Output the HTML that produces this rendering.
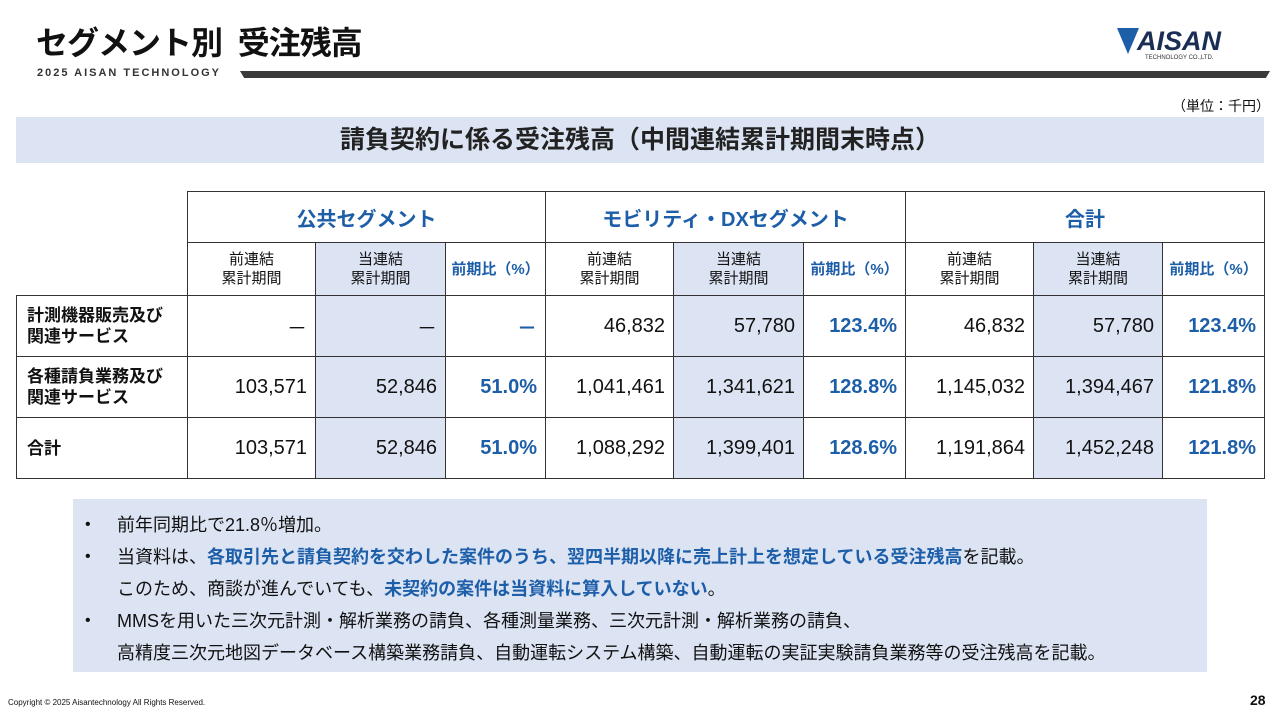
<!DOCTYPE html>
<html lang="ja"><head><meta charset="utf-8">
<style>
*{margin:0;padding:0;box-sizing:border-box}
body{width:1280px;height:720px;background:#fff;position:relative;overflow:hidden;font-family:"Liberation Sans","Noto Sans CJK JP",sans-serif;color:#111}
.abs{position:absolute}
#title{left:36px;top:18px;font-size:32px;font-weight:700;letter-spacing:-1px}
#sub{left:37px;top:67px;font-size:11px;font-weight:700;letter-spacing:2px;color:#333}
#bar{left:240px;top:71px;width:1030px;height:7px;background:#3a3a3a;clip-path:polygon(0 0,100% 0,99.6% 100%,0.4% 100%)}
#unit{left:1172px;top:96px;font-size:14px}
#banner{left:16px;top:117px;width:1248px;height:46px;background:#dce4f3;text-align:center;font-size:25px;font-weight:700;line-height:46px;color:#222}
table{position:absolute;left:16px;top:191px;border-collapse:collapse;font-size:20px;table-layout:fixed;width:1248px}
td{border:1px solid #333;height:20px;padding:0 8px;text-align:right;white-space:nowrap;overflow:hidden}
.h1 td{height:51px;text-align:center;color:#1d5ea8;font-weight:700;font-size:20px}
.h2 td{height:53px;text-align:center;font-size:15px;line-height:19px}
.h2 td.r{color:#1d5ea8;font-weight:700;padding:0}
.d td{height:61px}
td.lab{text-align:left;font-size:17px;font-weight:700;line-height:21px;padding-left:10px}
td.pct{color:#1d5ea8;font-weight:700}
.sh{background:#dce4f3}
.blank{border:none;border-right:1px solid #333}
#notes{left:73px;top:499px;width:1134px;height:173px;background:#dce4f3;font-size:18px;padding:10px 0 0 10px;line-height:32px}
#notes div{position:relative;padding-left:34px;white-space:nowrap}
#notes .b:before{content:"•";position:absolute;left:2px;font-size:16px}
.bl{color:#1d5ea8;font-weight:700}
#copy{left:8px;top:698px;font-size:8px}
#pg{left:1250px;top:692px;font-size:14px;font-weight:700}
</style></head><body>
<div id="title" class="abs">セグメント別&nbsp; 受注残高</div>
<div id="sub" class="abs">2025 AISAN TECHNOLOGY</div>
<div id="bar" class="abs"></div>
<svg class="abs" style="left:1115px;top:22px" width="130" height="40">
<polygon points="2,6 24,6 13,32" fill="#1d5ea8"/>
<text x="22" y="28" font-size="27" font-weight="700" font-family="Liberation Sans Narrow,Liberation Sans,sans-serif" fill="#1a2e55" font-style="italic">AISAN</text>
<text x="30" y="37" font-size="6" fill="#333">TECHNOLOGY CO.,LTD.</text>
</svg>
<div id="unit" class="abs">（単位：千円）</div>
<div id="banner" class="abs">請負契約に係る受注残高（中間連結累計期間末時点）</div>
<table>
<colgroup><col style="width:171px"><col style="width:128px"><col style="width:130px"><col style="width:100px"><col style="width:128px"><col style="width:130px"><col style="width:102px"><col style="width:128px"><col style="width:129px"><col style="width:102px"></colgroup>
<tr class="h1"><td class="blank"></td><td colspan="3">公共セグメント</td><td colspan="3">モビリティ・DXセグメント</td><td colspan="3">合計</td></tr>
<tr class="h2"><td class="blank"></td><td>前連結<br>累計期間</td><td class="sh">当連結<br>累計期間</td><td class="r">前期比（%）</td><td>前連結<br>累計期間</td><td class="sh">当連結<br>累計期間</td><td class="r">前期比（%）</td><td>前連結<br>累計期間</td><td class="sh">当連結<br>累計期間</td><td class="r">前期比（%）</td></tr>
<tr class="d"><td class="lab">計測機器販売及び<br>関連サービス</td><td>－</td><td class="sh">－</td><td class="pct">－</td><td>46,832</td><td class="sh">57,780</td><td class="pct">123.4%</td><td>46,832</td><td class="sh">57,780</td><td class="pct">123.4%</td></tr>
<tr class="d"><td class="lab">各種請負業務及び<br>関連サービス</td><td>103,571</td><td class="sh">52,846</td><td class="pct">51.0%</td><td>1,041,461</td><td class="sh">1,341,621</td><td class="pct">128.8%</td><td>1,145,032</td><td class="sh">1,394,467</td><td class="pct">121.8%</td></tr>
<tr class="d"><td class="lab">合計</td><td>103,571</td><td class="sh">52,846</td><td class="pct">51.0%</td><td>1,088,292</td><td class="sh">1,399,401</td><td class="pct">128.6%</td><td>1,191,864</td><td class="sh">1,452,248</td><td class="pct">121.8%</td></tr>
</table>
<div id="notes" class="abs">
<div class="b">前年同期比で21.8％増加。</div>
<div class="b">当資料は、<span class="bl">各取引先と請負契約を交わした案件のうち、翌四半期以降に売上計上を想定している受注残高</span>を記載。</div>
<div>このため、商談が進んでいても、<span class="bl">未契約の案件は当資料に算入していない</span>。</div>
<div class="b">MMSを用いた三次元計測・解析業務の請負、各種測量業務、三次元計測・解析業務の請負、</div>
<div>高精度三次元地図データベース構築業務請負、自動運転システム構築、自動運転の実証実験請負業務等の受注残高を記載。</div>
</div>
<div id="copy" class="abs">Copyright © 2025 Aisantechnology All Rights Reserved.</div>
<div id="pg" class="abs">28</div>
</body></html>
